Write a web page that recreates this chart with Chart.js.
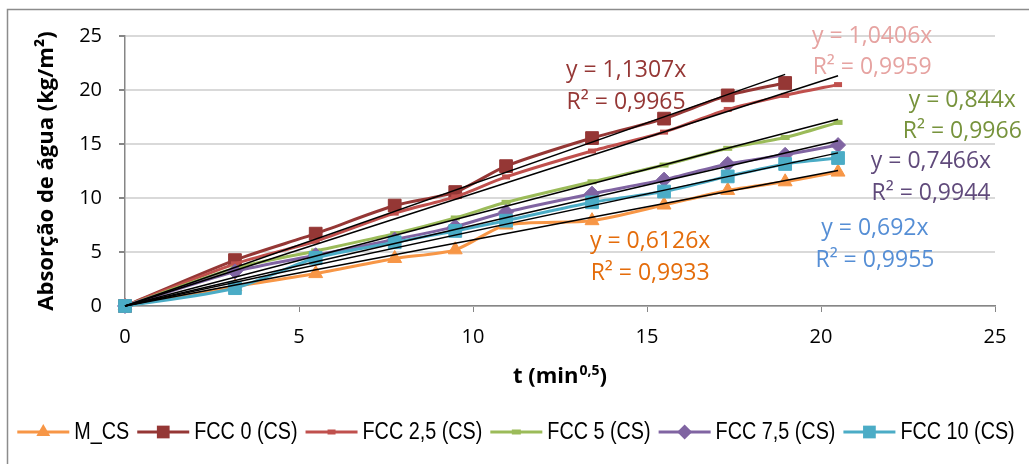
<!DOCTYPE html>
<html>
<head>
<meta charset="utf-8">
<script src="https://cdn.jsdelivr.net/npm/chart.js@4.4.1/dist/chart.umd.min.js"></script>
<style>
  html, body { margin: 0; padding: 0; background: #fff; }
  canvas { display: block; }
</style>
</head>
<body>
<canvas id="chart" width="1029" height="464"></canvas>
<script>
// Square root of elapsed time, t (min^0,5)
const tValues = [0, 3.16, 5.48, 7.75, 9.49, 10.95, 13.42, 15.49, 17.32, 18.97, 20.49];

const seriesNames = ['M_CS', 'FCC 0 (CS)', 'FCC 2,5 (CS)', 'FCC 5 (CS)', 'FCC 7,5 (CS)', 'FCC 10 (CS)'];

// Water absorption (kg/m²) per mix
const absorptionMCS   = [0, 1.8, 3.0, 4.4, 5.2, 7.5, 7.9, 9.35, 10.7, 11.5, 12.4];
const absorptionFCC0  = [0, 4.25, 6.7, 9.3, 10.55, 12.95, 15.55, 17.35, 19.5, 20.65];
const absorptionFCC25 = [0, 3.9, 6.0, 8.6, 10.1, 11.95, 14.35, 16.1, 18.2, 19.5, 20.5];
const absorptionFCC5  = [0, 3.5, 5.1, 6.7, 8.15, 9.6, 11.5, 13.05, 14.6, 15.6, 17.0];
const absorptionFCC75 = [0, 3.2, 4.7, 6.15, 7.35, 8.7, 10.4, 11.7, 13.15, 14.0, 14.9];
const absorptionFCC10 = [0, 1.65, 4.45, 5.9, 6.95, 7.9, 9.6, 10.6, 12.0, 13.15, 13.7];

// Linear fits through the origin: y = slope·x, with R²
const fitSlopes = [0.6126, 1.1307, 1.0406, 0.844, 0.7466, 0.692];
const fitR2     = [0.9933, 0.9965, 0.9959, 0.9966, 0.9944, 0.9955];

const axisTicks = [0, 5, 10, 15, 20, 25];

const seriesValues = [absorptionMCS, absorptionFCC0, absorptionFCC25, absorptionFCC5, absorptionFCC75, absorptionFCC10];

// Styling
const lineColors   = ['#F79646', '#953735', '#C0504D', '#9BBB59', '#8064A2', '#4BACC6'];
const fitTextColor = ['#E46C0A', '#953735', '#E6A3A1', '#77933C', '#604A7B', '#558ED5'];
const markers = [
  { style: 'triangle', radius: 8, border: 1 },
  { style: 'rect', radius: 9, border: 1 },
  { style: 'line', radius: 4, border: 5 },
  { style: 'line', radius: 4.5, border: 5 },
  { style: 'rectRot', radius: 7.5, border: 1 },
  { style: 'rect', radius: 9, border: 1 }
];
// Where each fit equation sits, in axis units (x centre, baselines of the two lines)
const fitLabelSpots = [
  { x: 15.09, y1: 5.34, y2: 2.41 },
  { x: 14.40, y1: 21.23, y2: 18.21 },
  { x: 21.47, y1: 24.38, y2: 21.48 },
  { x: 24.06, y1: 18.40, y2: 15.53 },
  { x: 23.16, y1: 12.75, y2: 9.81 },
  { x: 21.55, y1: 6.57, y2: 3.64 }
];

const labelFont  = '"Open Sans", "Liberation Sans", sans-serif';
const legendFont = '"Liberation Sans", Arial, sans-serif';
const legendSqueeze = 0.86;   // condensed legend lettering

const commaNum = v => String(v).replace('.', ',');

const datasets = [];
seriesValues.forEach((vals, i) => {
  datasets.push({
    label: seriesNames[i],
    data: vals.map((v, k) => ({ x: tValues[k], y: v })),
    borderColor: lineColors[i],
    backgroundColor: lineColors[i],
    borderWidth: 3,
    tension: 0.25,
    pointStyle: markers[i].style,
    pointRadius: markers[i].radius,
    pointBorderWidth: markers[i].border,
    pointBackgroundColor: lineColors[i],
    pointBorderColor: lineColors[i],
    pointHoverRadius: markers[i].radius,
    clip: false,
    order: seriesValues.length - i
  });
});
// Trend lines from the origin to the last measured time of each series
seriesValues.forEach((vals, i) => {
  const xEnd = tValues[vals.length - 1];
  datasets.push({
    label: 'fit ' + seriesNames[i],
    data: [{ x: 0, y: 0 }, { x: xEnd, y: fitSlopes[i] * xEnd }],
    borderColor: '#000000',
    borderWidth: 1.5,
    pointRadius: 0,
    pointHoverRadius: 0,
    tension: 0,
    clip: false,
    order: 0
  });
});

function drawLegendMarker(ctx, m, x, y, color) {
  ctx.save();
  ctx.fillStyle = color;
  ctx.strokeStyle = color;
  ctx.beginPath();
  if (m.style === 'triangle') {
    const r = m.radius;
    ctx.moveTo(x, y - r);
    ctx.lineTo(x + r * Math.sin(2 * Math.PI / 3), y + r / 2);
    ctx.lineTo(x - r * Math.sin(2 * Math.PI / 3), y + r / 2);
    ctx.closePath();
    ctx.fill();
  } else if (m.style === 'rect') {
    const s = m.radius * Math.SQRT1_2;
    ctx.rect(x - s, y - s, 2 * s, 2 * s);
    ctx.fill();
  } else if (m.style === 'rectRot') {
    const r = m.radius;
    ctx.moveTo(x - r, y); ctx.lineTo(x, y - r); ctx.lineTo(x + r, y); ctx.lineTo(x, y + r);
    ctx.closePath();
    ctx.fill();
  } else if (m.style === 'line') {
    ctx.lineWidth = m.border;
    ctx.moveTo(x - m.radius, y); ctx.lineTo(x + m.radius, y);
    ctx.stroke();
  }
  ctx.restore();
}

const decorations = {
  id: 'decorations',
  beforeDraw(chart) {
    const ctx = chart.ctx;
    ctx.save();
    ctx.fillStyle = '#ffffff';
    ctx.fillRect(0, 0, chart.width, chart.height);
    ctx.strokeStyle = '#8C8C8C';
    ctx.lineWidth = 1.5;
    ctx.strokeRect(7.5, 9.5, chart.width + 20, chart.height + 20);
    ctx.restore();
  },
  afterDraw(chart) {
    const ctx = chart.ctx;
    const xs = chart.scales.x, ys = chart.scales.y;
    const area = chart.chartArea;
    ctx.save();

    // Fit equations
    ctx.font = '23px ' + labelFont;
    ctx.textAlign = 'center';
    ctx.textBaseline = 'alphabetic';
    fitLabelSpots.forEach((p, i) => {
      ctx.fillStyle = fitTextColor[i];
      const px = xs.getPixelForValue(p.x);
      ctx.fillText('y = ' + commaNum(fitSlopes[i]) + 'x', px, ys.getPixelForValue(p.y1));
      ctx.fillText('R² = ' + commaNum(fitR2[i]), px, ys.getPixelForValue(p.y2));
    });

    // Y axis title
    ctx.fillStyle = '#000000';
    ctx.font = 'bold 22px ' + labelFont;
    ctx.save();
    ctx.translate(47, (area.top + area.bottom) / 2);
    ctx.rotate(-Math.PI / 2);
    ctx.textAlign = 'center';
    ctx.textBaseline = 'middle';
    ctx.fillText('Absorção de água (kg/m²)', 0, 0);
    ctx.restore();

    // X axis title with superscript exponent
    const mainFont = 'bold 22px ' + labelFont;
    const supFont = 'bold 14px ' + labelFont;
    ctx.font = mainFont;
    const wA = ctx.measureText('t (min').width;
    const wC = ctx.measureText(')').width;
    ctx.font = supFont;
    const wB = ctx.measureText('0,5').width + 1;
    const total = wA + wB + wC;
    const tx = (area.left + area.right) / 2 - total / 2;
    const base = 383;
    ctx.textAlign = 'left';
    ctx.textBaseline = 'alphabetic';
    ctx.font = mainFont;
    ctx.fillText('t (min', tx, base);
    ctx.font = supFont;
    ctx.fillText('0,5', tx + wA + 1, base - 8);
    ctx.font = mainFont;
    ctx.fillText(')', tx + wA + wB, base);

    // Legend: line sample with marker, then the series name
    ctx.font = '23px ' + legendFont;
    const sampleW = 52, gapText = 5, gapItem = 8, legendY = 432;
    const widths = seriesNames.map(n => ctx.measureText(n).width * legendSqueeze);
    const legendW = widths.reduce((a, w) => a + sampleW + gapText + w, 0) + gapItem * (seriesNames.length - 1);
    let lx = 516 - legendW / 2;
    ctx.textBaseline = 'middle';
    ctx.textAlign = 'left';
    seriesNames.forEach((name, i) => {
      ctx.strokeStyle = lineColors[i];
      ctx.lineWidth = 3;
      ctx.beginPath();
      ctx.moveTo(lx, legendY);
      ctx.lineTo(lx + sampleW, legendY);
      ctx.stroke();
      drawLegendMarker(ctx, markers[i], lx + sampleW / 2, legendY, lineColors[i]);
      ctx.fillStyle = '#000000';
      ctx.save();
      ctx.translate(lx + sampleW + gapText, legendY + 1);
      ctx.scale(legendSqueeze, 1);
      ctx.fillText(name, 0, 0);
      ctx.restore();
      lx += sampleW + gapText + widths[i] + gapItem;
    });
    ctx.restore();
  }
};

new Chart(document.getElementById('chart'), {
  type: 'line',
  data: { datasets },
  options: {
    responsive: false,
    animation: false,
    devicePixelRatio: 1,
    layout: { padding: { top: 36, right: 34, left: 0, bottom: 0 } },
    plugins: {
      legend: { display: false },
      tooltip: { enabled: false }
    },
    scales: {
      x: {
        type: 'linear',
        min: axisTicks[0],
        max: axisTicks[axisTicks.length - 1],
        afterBuildTicks: s => { s.ticks = axisTicks.map(v => ({ value: v })); },
        afterFit: s => { s.height = 158; },
        grid: { drawOnChartArea: false, drawTicks: true, tickLength: 6, tickColor: '#868686', lineWidth: 1 },
        border: { color: '#868686', width: 1.5 },
        ticks: { color: '#000000', padding: 13, maxRotation: 0, font: { family: labelFont, size: 20 } }
      },
      y: {
        type: 'linear',
        min: axisTicks[0],
        max: axisTicks[axisTicks.length - 1],
        afterBuildTicks: s => { s.ticks = axisTicks.map(v => ({ value: v })); },
        afterFit: s => { s.width = 125; },
        grid: { color: '#D9D9D9', lineWidth: 2, drawTicks: true, tickLength: 6, tickColor: '#868686' },
        border: { color: '#868686', width: 1.5 },
        ticks: { color: '#000000', padding: 17, font: { family: labelFont, size: 20 } }
      }
    }
  },
  plugins: [decorations]
});
</script>
</body>
</html>
